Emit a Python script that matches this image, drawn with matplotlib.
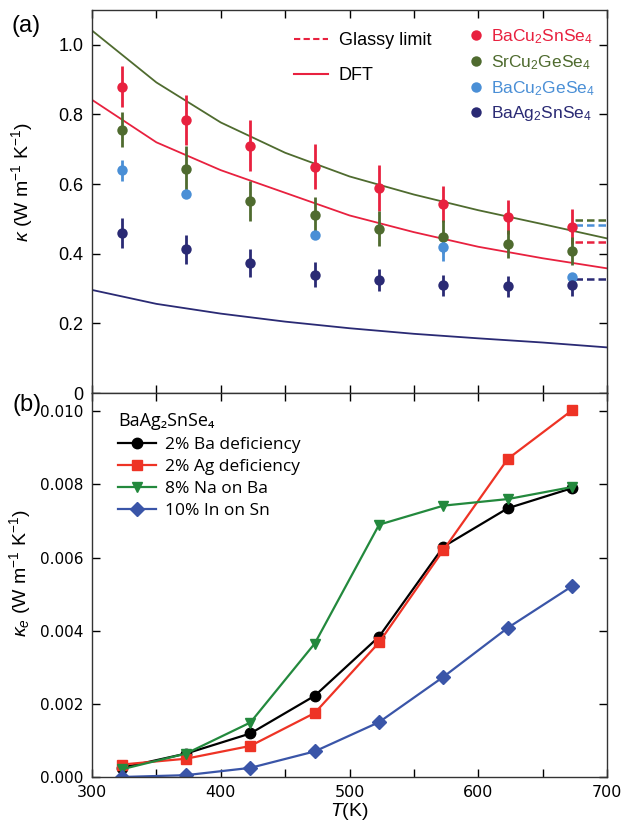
import matplotlib
matplotlib.use("Agg")
import matplotlib.pyplot as plt
from matplotlib.lines import Line2D

plt.rcParams['font.family'] = ['Liberation Sans', 'DejaVu Sans']
plt.rcParams['mathtext.fontset'] = 'custom'
plt.rcParams['mathtext.rm'] = 'Liberation Sans'
plt.rcParams['mathtext.it'] = 'Liberation Sans:italic'
plt.rcParams['mathtext.bf'] = 'Liberation Sans:bold'

# ---------------- data: panel (a) ----------------
T_meas = [323, 373, 423, 473, 523, 573, 623, 673]
k_BaCuSn = [0.88, 0.785, 0.71, 0.65, 0.59, 0.543, 0.505, 0.478]
e_BaCuSn = [0.06, 0.072, 0.073, 0.064, 0.066, 0.052, 0.048, 0.05]
k_SrCuGe = [0.756, 0.643, 0.551, 0.511, 0.472, 0.449, 0.429, 0.408]
e_SrCuGe = [0.05, 0.065, 0.058, 0.052, 0.05, 0.048, 0.04, 0.04]
T_BaCuGe = [323, 373, 473, 573, 673]
k_BaCuGe = [0.64, 0.571, 0.454, 0.418, 0.334]
e_BaCuGe = [0.03, 0.0, 0.0, 0.04, 0.0]
k_BaAgSn = [0.459, 0.413, 0.373, 0.34, 0.325, 0.31, 0.307, 0.31]
e_BaAgSn = [0.043, 0.042, 0.04, 0.035, 0.032, 0.03, 0.03, 0.03]

T_dft = [300, 350, 400, 450, 500, 550, 600, 650, 700]
dft_SrCuGe = [1.041, 0.892, 0.777, 0.69, 0.622, 0.57, 0.525, 0.485, 0.444]
dft_BaCuSn = [0.842, 0.72, 0.64, 0.575, 0.51, 0.462, 0.42, 0.387, 0.358]
dft_BaAgSn = [0.296, 0.256, 0.228, 0.205, 0.186, 0.17, 0.157, 0.145, 0.131]

T_glassy = [675, 700]
glassy_SrCuGe = 0.497
glassy_BaCuGe = 0.482
glassy_BaCuSn = 0.434
glassy_BaAgSn = 0.328

# ---------------- data: panel (b) ----------------
ke_Ba_def = [0.00025, 0.00064, 0.00119, 0.00222, 0.00384, 0.0063, 0.00735, 0.0079]
ke_Ag_def = [0.00034, 0.0005, 0.00085, 0.00175, 0.00368, 0.00621, 0.0087, 0.01003]
ke_Na_Ba = [0.00021, 0.00064, 0.00149, 0.00365, 0.0069, 0.00742, 0.0076, 0.00793]
ke_In_Sn = [0.0, 0.00005, 0.00025, 0.0007, 0.0015, 0.00274, 0.00408, 0.00522]

c_red = '#E8213F'
c_green = '#4F6B2F'
c_lblue = '#4A8FD6'
c_navy = '#2A2A74'

fig = plt.figure(figsize=(6.21, 8.22), dpi=100)
L, R = 92 / 621, 607 / 621
ax1 = fig.add_axes([L, 1 - 393 / 822, R - L, 383 / 822])
ax2 = fig.add_axes([L, 1 - 777 / 822, R - L, 384 / 822])

# ---- panel (a) ----
ax1.plot(T_dft, dft_SrCuGe, color=c_green, lw=1.3)
ax1.plot(T_dft, dft_BaCuSn, color=c_red, lw=1.3)
ax1.plot(T_dft, dft_BaAgSn, color=c_navy, lw=1.3)

for g, c in [(glassy_SrCuGe, c_green), (glassy_BaCuGe, c_lblue),
             (glassy_BaCuSn, c_red), (glassy_BaAgSn, c_navy)]:
    ax1.plot(T_glassy, [g, g], color=c, lw=1.8, ls=(0, (3, 1.6)))

ekw = dict(fmt='o', ms=7.5, elinewidth=2.0, capsize=0, mec='none')
ax1.errorbar(T_meas, k_BaCuSn, yerr=e_BaCuSn, color=c_red, **ekw)
ax1.errorbar(T_meas, k_SrCuGe, yerr=e_SrCuGe, color=c_green, **ekw)
ax1.errorbar(T_BaCuGe, k_BaCuGe, yerr=e_BaCuGe, color=c_lblue, **ekw)
ax1.errorbar(T_meas, k_BaAgSn, yerr=e_BaAgSn, color=c_navy, **ekw)

ax1.set_xlim(300, 700)
ax1.set_ylim(0, 1.1)
ax1.set_xticks(range(300, 701, 50))
ax1.set_xticklabels([])
ax1.set_yticks([0, 0.2, 0.4, 0.6, 0.8, 1.0])
ax1.set_yticklabels(['0', '0.2', '0.4', '0.6', '0.8', '1.0'])
ax1.tick_params(direction='in', top=True, right=True, labelright=False,
                length=6, width=1.0, labelsize=13, pad=6)
ax1.set_ylabel(r'$\kappa$ (W m$^{\mathregular{-1}}$ K$^{\mathregular{-1}}$)', fontsize=14)
ax1.yaxis.set_label_coords(-0.11, 0.55)

h_lines = [Line2D([], [], color=c_red, lw=1.5, ls=(0, (3, 1.6))),
           Line2D([], [], color=c_red, lw=1.5)]
leg1 = ax1.legend(h_lines, ['Glassy limit', 'DFT'], loc='upper left',
                  bbox_to_anchor=(0.36, 0.985), frameon=False, fontsize=13,
                  handlelength=1.9, handletextpad=0.6, labelspacing=1.0)
ax1.add_artist(leg1)

names = [r'BaCu$_2$SnSe$_4$', r'SrCu$_2$GeSe$_4$', r'BaCu$_2$GeSe$_4$', r'BaAg$_2$SnSe$_4$']
cols = [c_red, c_green, c_lblue, c_navy]
h_pts = [Line2D([], [], ls='none', marker='o', ms=7.5, color=c, mec='none') for c in cols]
leg2 = ax1.legend(h_pts, names, loc='upper left', bbox_to_anchor=(0.705, 0.995),
                  frameon=False, fontsize=12.5, handlelength=0.6, handletextpad=0.55,
                  labelspacing=0.4)
for t, c in zip(leg2.get_texts(), cols):
    t.set_color(c)

fig.text(26 / 621, 1 - 26 / 822, '(a)', fontsize=17, ha='center', va='center')

# ---- panel (b) ----
lkw = dict(lw=1.6, ms=7.5)
ax2.plot(T_meas, ke_Ba_def, color='black', marker='o', label='2% Ba deficiency', **lkw)
ax2.plot(T_meas, ke_Ag_def, color='#EE3325', marker='s', label='2% Ag deficiency', **lkw)
ax2.plot(T_meas, ke_Na_Ba, color='#23893D', marker='v', label='8% Na on Ba', **lkw)
ax2.plot(T_meas, ke_In_Sn, color='#3A55A8', marker='D', label='10% In on Sn', **lkw)

ax2.set_xlim(300, 700)
ax2.set_ylim(0, 0.0105)
ax2.set_xticks(range(300, 701, 50))
ax2.set_xticklabels(['300', '', '400', '', '500', '', '600', '', '700'])
ax2.set_yticks([0, 0.002, 0.004, 0.006, 0.008, 0.010])
ax2.set_yticklabels(['0.000', '0.002', '0.004', '0.006', '0.008', '0.010'],
                    fontfamily='DejaVu Sans')
for lab in ax2.get_xticklabels():
    lab.set_fontfamily('DejaVu Sans')
ax2.tick_params(direction='in', top=True, right=True, labelright=False,
                length=6, width=1.0, pad=6)
ax2.tick_params(axis='y', labelsize=11)
ax2.tick_params(axis='x', labelsize=11.5)
ax2.set_ylabel(r'$\kappa_e$ (W m$^{\mathregular{-1}}$ K$^{\mathregular{-1}}$)', fontsize=14)
ax2.yaxis.set_label_coords(-0.115, 0.53)
ax2.set_xlabel(r'$T$(K)', fontsize=14)
ax2.xaxis.set_label_coords(0.5, -0.062)

leg3 = ax2.legend(loc='upper left', bbox_to_anchor=(0.02, 0.99), frameon=False,
                  title='BaAg\u2082SnSe\u2084', title_fontsize=13,
                  handlelength=2.2, handletextpad=0.5, labelspacing=0.35,
                  prop={'family': 'Open Sans', 'size': 12.5})
leg3._legend_box.align = 'left'
leg3.get_title().set_fontfamily(['Open Sans', 'DejaVu Sans'])

fig.text(27 / 621, 1 - 405 / 822, '(b)', fontsize=17, ha='center', va='center')

for ax in (ax1, ax2):
    for s in ax.spines.values():
        s.set_linewidth(1.0)
        s.set_color('#333333')

fig.savefig('out.png', dpi=100)
